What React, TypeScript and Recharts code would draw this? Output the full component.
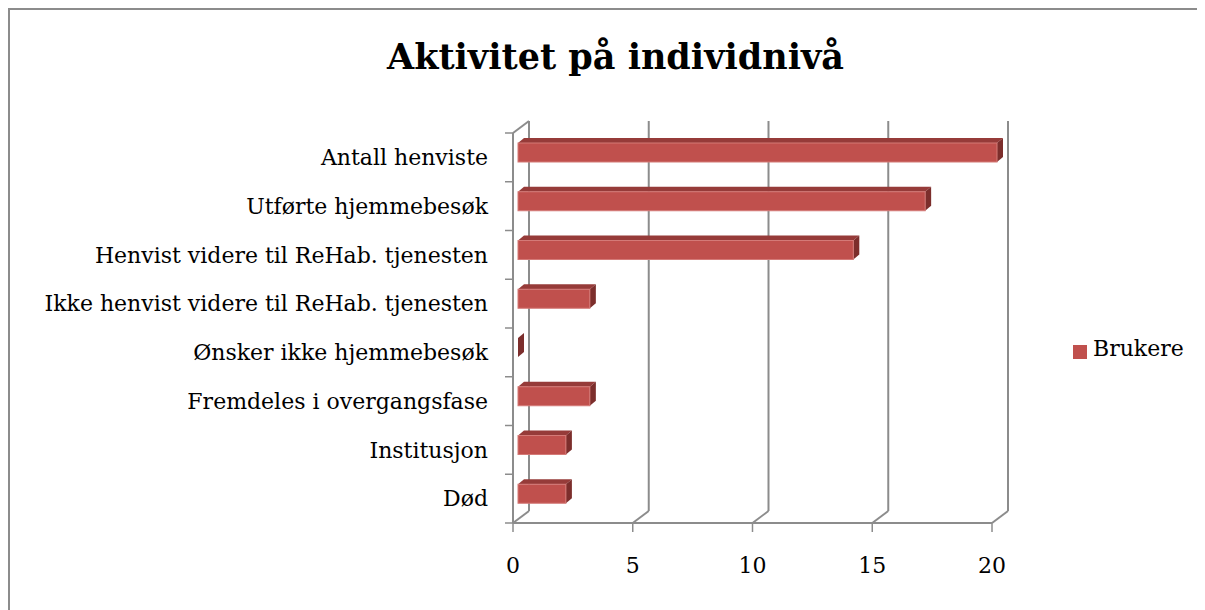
import React from "react";
import { Bar, BarChart, XAxis, YAxis, CartesianGrid, Legend } from "recharts";

// categories top -> bottom, as in the reference
const categories = [
  "Antall henviste",
  "Utførte hjemmebesøk",
  "Henvist videre til ReHab. tjenesten",
  "Ikke henvist videre til ReHab. tjenesten",
  "Ønsker ikke hjemmebesøk",
  "Fremdeles i overgangsfase",
  "Institusjon",
  "Død",
];
const brukere = [20, 17, 14, 3, 0, 3, 2, 2];
const xTicks = [0, 5, 10, 15, 20];

const data = categories.map((name, i) => ({ name, Brukere: brukere[i] }));

const FONT = '"DejaVu Serif", serif';
const GRID = "#8c8c8c";
const AXIS_X = 503; // left edge of the plot (front plane)
const BAND = 390 / categories.length;
const DX = 16; // depth of the back wall
const DY = 12;

const CategoryTick = (props: any) => {
  const { x, y, payload, index } = props;
  const half = BAND / 2;
  return (
    <g>
      <line x1={AXIS_X - 8} x2={AXIS_X} y1={y - half} y2={y - half} stroke={GRID} strokeWidth={1.5} />
      {index === categories.length - 1 && (
        <line x1={AXIS_X - 8} x2={AXIS_X} y1={y + half} y2={y + half} stroke={GRID} strokeWidth={1.5} />
      )}
      <text x={x} y={y} dy="0.35em" textAnchor="end" fill="#000" fontSize={22} fontFamily={FONT}>
        {payload.value}
      </text>
    </g>
  );
};

// grid lines drawn on the back wall, with the floor edge back to the front
const WallLine = (props: any) => {
  const { x1, y1, y2, index } = props;
  const bx = x1 + DX;
  return (
    <g key={`wall-${index}`}>
      <line x1={bx} x2={bx} y1={y1 - DY} y2={y2 - DY} stroke={GRID} strokeWidth={2} />
      <line x1={bx} x2={x1} y1={y2 - DY} y2={y2} stroke={GRID} strokeWidth={2} />
      {index === 0 && <line x1={bx} x2={x1} y1={y1 - DY} y2={y1} stroke={GRID} strokeWidth={2} />}
    </g>
  );
};

const Bar3D = (props: any) => {
  const { x, y, width, height } = props;
  const fx = x + 5;
  const fy = y - 5;
  const w = Math.max(width, 0);
  const d = 6;
  const dd = 5;
  return (
    <g>
      <polygon
        points={`${fx},${fy} ${fx + d},${fy - dd} ${fx + w + d},${fy - dd} ${fx + w},${fy}`}
        fill="#963b39"
      />
      <polygon
        points={`${fx + w},${fy} ${fx + w + d},${fy - dd} ${fx + w + d},${fy + height - dd} ${fx + w},${fy + height}`}
        fill="#7c2e2c"
      />
      {w > 0 && <rect x={fx} y={fy} width={w} height={height} fill="#c0504d" stroke="#d47a77" strokeWidth={1} />}
    </g>
  );
};

export default function App() {
  return (
    <div
      style={{
        position: "relative",
        width: 1195,
        height: 600,
        borderTop: `2px solid ${GRID}`,
        borderLeft: `2px solid ${GRID}`,
        fontFamily: FONT,
      }}
    >
      <div
        style={{
          position: "absolute",
          left: 8,
          top: 26,
          width: 1195,
          textAlign: "center",
          fontSize: 35,
          fontWeight: "bold",
          fontFamily: FONT,
          color: "#000",
          zIndex: 1,
        }}
      >
        Aktivitet på individnivå
      </div>
      <BarChart
        width={1195}
        height={600}
        data={data}
        layout="vertical"
        barSize={19}
        margin={{ top: 123, right: 213, bottom: 47, left: 0 }}
      >
        <CartesianGrid horizontal={false} vertical={WallLine} stroke={GRID} />
        <XAxis
          type="number"
          domain={[0, 20]}
          ticks={xTicks}
          height={40}
          stroke={GRID}
          tickSize={9}
          tickMargin={25}
          tick={{ fill: "#000", fontSize: 22, fontFamily: FONT }}
          axisLine={{ stroke: GRID, strokeWidth: 2 }}
          tickLine={{ stroke: GRID, strokeWidth: 1.5 }}
        />
        <YAxis
          type="category"
          dataKey="name"
          width={503}
          tickSize={8}
          tickMargin={17}
          tickLine={false}
          axisLine={{ stroke: GRID, strokeWidth: 2 }}
          tick={CategoryTick}
          interval={0}
        />
        <Legend
          layout="vertical"
          align="center"
          verticalAlign="middle"
          iconType="square"
          iconSize={14}
          wrapperStyle={{ left: 1063, top: 326, width: 130 }}
          formatter={(value: string) => (
            <span style={{ color: "#000", fontSize: 22, fontFamily: FONT, marginLeft: 2 }}>{value}</span>
          )}
        />
        <Bar dataKey="Brukere" fill="#c0504d" shape={Bar3D} isAnimationActive={false} />
      </BarChart>
    </div>
  );
}
